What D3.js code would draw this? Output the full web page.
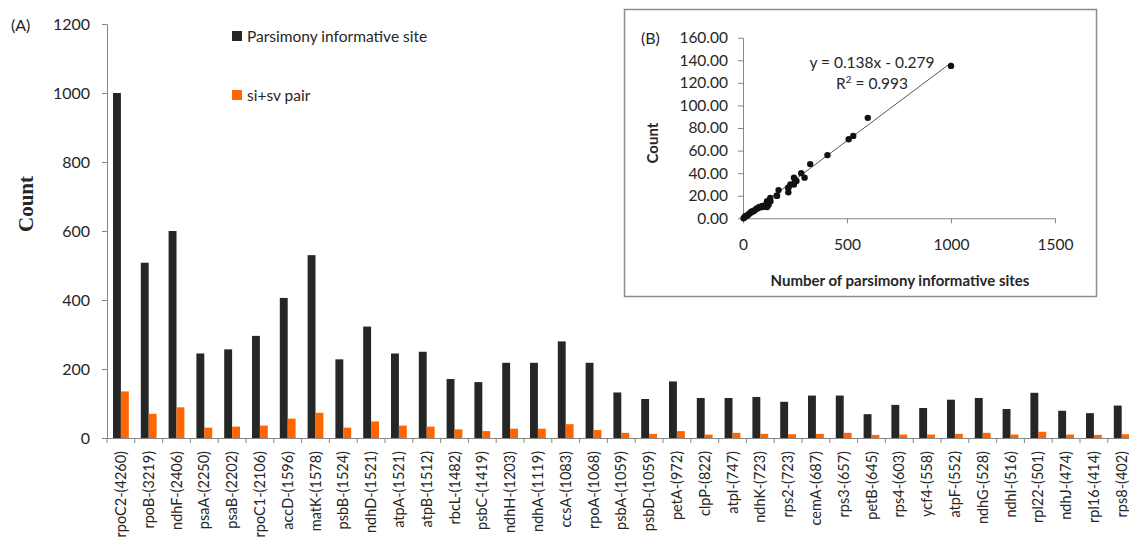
<!DOCTYPE html>
<html>
<head>
<meta charset="utf-8">
<script src="https://cdn.jsdelivr.net/npm/d3@7/dist/d3.min.js"></script>
<style>
  html, body { margin: 0; padding: 0; background: #fff; }
  svg { display: block; }
  text { font-family: Lato, "Open Sans", sans-serif; fill: #262626; }
</style>
</head>
<body>
<svg id="chart" width="1129" height="550"></svg>
<script>
// Genes (with alignment length) along the x axis
const genes = ["rpoC2-(4260)","rpoB-(3219)","ndhF-(2406)","psaA-(2250)","psaB-(2202)","rpoC1-(2106)",
  "accD-(1596)","matK-(1578)","psbB-(1524)","ndhD-(1521)","atpA-(1521)","atpB-(1512)","rbcL-(1482)",
  "psbC-(1419)","ndhH-(1203)","ndhA-(1119)","ccsA-(1083)","rpoA-(1068)","psbA-(1059)","psbD-(1059)",
  "petA-(972)","clpP-(822)","atpI-(747)","ndhK-(723)","rps2-(723)","cemA-(687)","rps3-(657)",
  "petB-(645)","rps4-(603)","ycf4-(558)","atpF-(552)","ndhG-(528)","ndhI-(516)","rpl22-(501)",
  "ndhJ-(474)","rpl16-(414)","rps8-(402)"];

// Number of parsimony informative sites per gene
const informativeSites = [1000,508,600,245,257,296,406,530,228,323,245,250,171,162,218,218,280,218,
  132,113,164,116,116,119,105,123,123,69,96,87,111,116,84,131,79,72,94];

// Number of si+sv pairs per gene
const siSvPairs = [135,70,89,30,33,36,56,73,30,48,36,33,25,20,27,27,40,23,15,12,20,10,15,12,11,12,15,
  9,10,10,12,15,10,18,10,9,11];

// Additional short genes shown only in the regression panel
const shortGeneSites = [3,8,12,18,24,30,36,42,48,55,62];
const shortGenePairs = [0,1,2,2,3,4,5,6,6,7,8];

const seriesNames = ["Parsimony informative site", "si+sv pair"];
const seriesColors = ["#262626", "#ff6600"];

const yTicksA = [0,200,400,600,800,1000,1200];
const yTicksB = [0,20,40,60,80,100,120,140,160];
const xTicksB = [0,500,1000,1500];

// Regression line of pairs on informative sites
const slope = 0.138, intercept = -0.279, rSquared = 0.993;

const svg = d3.select("#chart");
const axisColor = "#868686";

// ---------- Panel A: grouped bars ----------
const left = 107, bandW = 27.8, baseY = 438, topY = 24;
const x = d3.scaleBand().domain(genes).range([left, left + genes.length * bandW]).padding(0);
const y = d3.scaleLinear().domain([0, 1200]).range([baseY, topY]);
const barW = 7.9;
const xs = d3.scaleBand().domain(seriesNames)
  .range([x.bandwidth() / 2 - barW, x.bandwidth() / 2 + barW]).padding(0);

const rows = genes.map((g, i) => ({ gene: g, values: [informativeSites[i], siSvPairs[i]] }));

const gA = svg.append("g");

gA.selectAll("g.gene").data(rows).join("g")
  .attr("class", "gene")
  .attr("transform", d => `translate(${x(d.gene)},0)`)
  .selectAll("rect").data(d => d.values.map((v, k) => ({ k, v })))
  .join("rect")
  .attr("x", d => xs(seriesNames[d.k]))
  .attr("width", xs.bandwidth())
  .attr("y", d => y(d.v))
  .attr("height", d => y(0) - y(d.v))
  .attr("fill", d => seriesColors[d.k]);

// y axis
const yAxisA = gA.append("g").attr("transform", `translate(${left},0)`)
  .call(d3.axisLeft(y).tickValues(yTicksA).tickSize(5).tickSizeOuter(0).tickPadding(12)
    .tickFormat(d3.format("d")));
yAxisA.select(".domain").attr("stroke", axisColor);
yAxisA.selectAll(".tick line").attr("stroke", axisColor);
yAxisA.selectAll(".tick text").attr("font-size", 16).style("font-family", "Lato, sans-serif").attr("fill", "#262626");

// x axis: boundary ticks and rotated gene labels
const xAxisA = gA.append("g").attr("transform", `translate(0,${baseY})`)
  .call(d3.axisBottom(x).tickSize(0).tickSizeOuter(0).tickPadding(0));
xAxisA.select(".domain").attr("stroke", axisColor);
xAxisA.selectAll(".tick text")
  .attr("font-size", 14.5)
  .style("font-family", "Lato, sans-serif")
  .attr("fill", "#262626")
  .attr("text-anchor", "end")
  .attr("dy", null)
  .attr("dominant-baseline", "central")
  .attr("transform", "translate(-0.5,13) rotate(-90)");
const bounds = genes.map(g => x(g)).concat([x.range()[1]]);
gA.append("g").selectAll("line").data(bounds).join("line")
  .attr("x1", d => d).attr("x2", d => d)
  .attr("y1", baseY).attr("y2", baseY + 5)
  .attr("stroke", axisColor);

// axis title and panel tag
gA.append("text")
  .attr("transform", "translate(33,204) rotate(-90)")
  .attr("text-anchor", "middle")
  .style("font-family", "'Liberation Serif', 'Times New Roman', serif")
  .attr("font-weight", "bold").attr("font-size", 21)
  .text("Count");
gA.append("text").attr("x", 11).attr("y", 31).attr("font-size", 16).text("(A)");

// legend
const legend = gA.append("g");
seriesNames.forEach((name, k) => {
  const ly = 36 + k * 59;
  legend.append("rect").attr("x", 232).attr("y", ly - 5).attr("width", 10).attr("height", 10)
    .attr("fill", seriesColors[k]);
  legend.append("text").attr("x", 247).attr("y", ly).attr("dominant-baseline", "central")
    .attr("font-size", 15.5).text(name);
});

// ---------- Panel B: regression scatter ----------
const gB = svg.append("g");
gB.append("rect").attr("x", 624.5).attr("y", 9.5).attr("width", 472).attr("height", 287)
  .attr("fill", "#fff").attr("stroke", "#8c8c8c").attr("stroke-width", 1.5);

const bx = d3.scaleLinear().domain([0, 1500]).range([743, 1055]);
const by = d3.scaleLinear().domain([0, 160]).range([218.3, 37.7]);

const yAxisB = gB.append("g").attr("transform", "translate(743,0)")
  .call(d3.axisLeft(by).tickValues(yTicksB).tickSize(5).tickSizeOuter(0).tickPadding(10)
    .tickFormat(d3.format(".2f")));
yAxisB.select(".domain").attr("stroke", axisColor);
yAxisB.selectAll(".tick line").attr("stroke", axisColor);
yAxisB.selectAll(".tick text").attr("font-size", 15.5).style("font-family", "Lato, sans-serif").attr("fill", "#262626");

const xAxisB = gB.append("g").attr("transform", "translate(0,218.3)")
  .call(d3.axisBottom(bx).tickValues(xTicksB).tickSize(5).tickSizeOuter(0).tickPadding(16)
    .tickFormat(d3.format("d")));
xAxisB.select(".domain").attr("stroke", axisColor);
xAxisB.selectAll(".tick line").attr("stroke", axisColor);
xAxisB.selectAll(".tick text").attr("font-size", 15.5).style("font-family", "Lato, sans-serif").attr("fill", "#404040");

const pts = informativeSites.map((v, i) => [v, siSvPairs[i]])
  .concat(shortGeneSites.map((v, i) => [v, shortGenePairs[i]]));

const xMin = d3.min(pts, d => d[0]), xMax = d3.max(pts, d => d[0]);
gB.append("line")
  .attr("x1", bx(xMin)).attr("y1", by(slope * xMin + intercept))
  .attr("x2", bx(xMax)).attr("y2", by(slope * xMax + intercept))
  .attr("stroke", "#555").attr("stroke-width", 1);

gB.append("g").selectAll("circle").data(pts).join("circle")
  .attr("cx", d => bx(d[0])).attr("cy", d => by(d[1])).attr("r", 3.2)
  .attr("fill", "#111");

gB.append("text").attr("x", 872).attr("y", 68).attr("text-anchor", "middle").attr("font-size", 15.5)
  .text(`y = ${slope}x - ${Math.abs(intercept)}`);
const r2 = gB.append("text").attr("x", 872).attr("y", 89).attr("text-anchor", "middle").attr("font-size", 15.5);
r2.append("tspan").text("R");
r2.append("tspan").attr("dy", -6).attr("font-size", 10).text("2");
r2.append("tspan").attr("dy", 6).text(` = ${rSquared}`);

gB.append("text").attr("x", 900).attr("y", 286).attr("text-anchor", "middle")
  .attr("font-weight", "bold").attr("font-size", 15).text("Number of parsimony informative sites");
gB.append("text").attr("transform", "translate(658,143) rotate(-90)").attr("text-anchor", "middle")
  .attr("font-weight", "bold").attr("font-size", 15).text("Count");
gB.append("text").attr("x", 641).attr("y", 44).attr("font-size", 16).text("(B)");
</script>
</body>
</html>
